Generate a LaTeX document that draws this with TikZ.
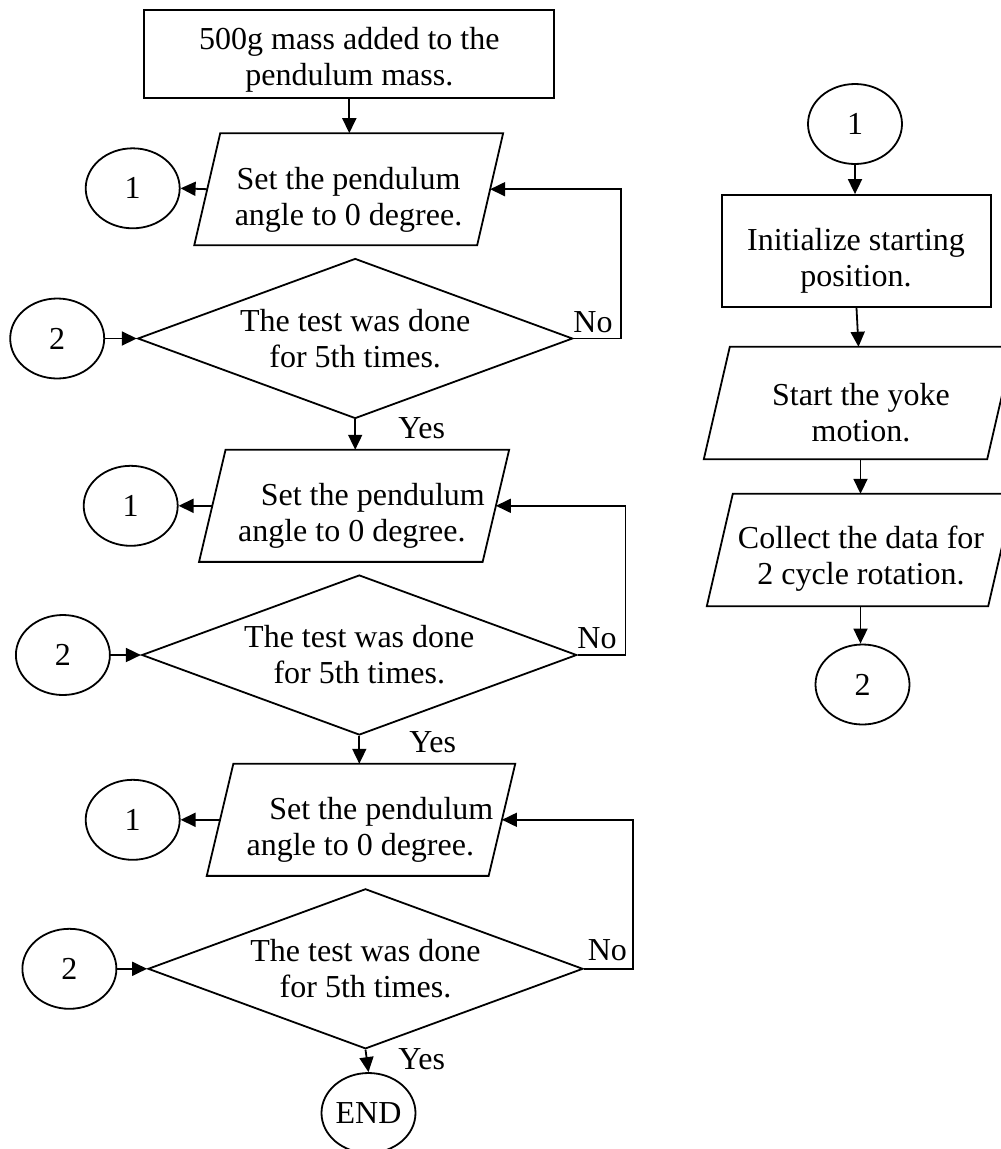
\documentclass[tikz,border=0pt]{standalone}
\usepackage{fontspec}
\setmainfont{Liberation Serif}
\usetikzlibrary{shapes.geometric,arrows.meta,calc}
\newcommand\paradraw[2]{\draw[line] ($(#1.north west)+(#2/2,0)$) -- ($(#1.north east)+(#2/2,0)$) -- ($(#1.south east)-(#2/2,0)$) -- ($(#1.south west)-(#2/2,0)$) -- cycle;}
\begin{document}
\begin{tikzpicture}[x=1pt,y=-1pt,
  every node/.style={font=\fontsize{32}{36}\selectfont},
  line/.style={line width=1.8pt},
  arr/.style={line width=1.8pt,-{Triangle[length=15pt,width=14pt]}},
  procbox/.style={draw,line width=1.8pt,inner sep=0pt},
  paranode/.style={inner sep=0pt},
  decision/.style={diamond,draw,line width=1.8pt,inner sep=0pt,aspect=2.7,minimum width=435pt,minimum height=160pt,align=center},
  conn/.style={ellipse,draw,line width=1.8pt,inner sep=0pt,minimum width=94pt,minimum height=80pt},
  txt/.style={align=center,inner sep=0pt}]
\useasboundingbox (0,0) rectangle (1001,1149);
\clip (0,0) rectangle (1001,1149);

% ---------- left column ----------
\node[procbox,minimum width=410pt,minimum height=88pt] (b0) at (349.3,54.2) {};
\node[txt] (b0t) at (349.3,60) {500g mass added to the\\pendulum mass.};

% block 1
\node[paranode,minimum width=282.5pt,minimum height=111.7pt] (p1) at (348.7,189.2) {};
\paradraw{p1}{26}
\node[txt] (p1t) at (348.5,199.5) {Set the pendulum\\angle to 0 degree.};
\node[conn] (c1a) at (132.7,188.3) {1};
\node[decision] (d1) at (355.2,338.5) {The test was done\\for 5th times.};
\node[conn] (c2a) at (57.2,338.5) {2};
\coordinate (k1) at (620.6,338.5);
\node[txt] (no1) at (593,322) {No};
\node[txt] (yes1) at (421.7,428) {Yes};

% block 2
\node[paranode,minimum width=283.2pt,minimum height=111.7pt] (p2) at (354.1,505.8) {};
\paradraw{p2}{26.5}
\node[txt] (p2t) at (351.8,516) {\hspace*{42pt}Set the pendulum\\angle to 0 degree.};
\node[conn] (c1b) at (130.7,505.8) {1};
\node[decision] (d2) at (359.3,655) {The test was done\\for 5th times.};
\node[conn] (c2b) at (62.9,655) {2};
\coordinate (k2) at (625.5,655);
\node[txt] (no2) at (597,638) {No};
\node[txt] (yes2) at (432.7,742) {Yes};

% block 3
\node[paranode,minimum width=281.5pt,minimum height=111.7pt] (p3) at (361,819.8) {};
\paradraw{p3}{26.6}
\node[txt] (p3t) at (360.3,830) {\hspace*{42pt}Set the pendulum\\angle to 0 degree.};
\node[conn] (c1c) at (132.7,819.8) {1};
\node[decision] (d3) at (365.5,968.8) {The test was done\\for 5th times.};
\node[conn] (c2c) at (69.4,968.8) {2};
\coordinate (k3) at (632.9,968.8);
\node[txt] (no3) at (607.4,950) {No};
\node[txt] (yes3) at (421.7,1059) {Yes};
\node[conn] (endn) at (368.5,1113) {END};

% left connectors
\draw[arr] (b0.south) -- (b0.south |- p1.north);
\draw[arr] (p1.west) -- (c1a.east);
\draw[arr] (c2a.east) -- (d1.west);
\draw[arr] (d1.east) -- (k1) |- (p1.east);
\draw[arr] (d1.south) -- (d1.south |- p2.north);
\draw[arr] (p2.west) -- (c1b.east);
\draw[arr] (c2b.east) -- (d2.west);
\draw[arr] (d2.east) -- (k2) |- (p2.east);
\draw[arr] (d2.south) -- (d2.south |- p3.north);
\draw[arr] (p3.west) -- (c1c.east);
\draw[arr] (c2c.east) -- (d3.west);
\draw[arr] (d3.east) -- (k3) |- (p3.east);
\draw[arr] (d3.south) -- (endn.north);

% ---------- right column ----------
\node[conn] (c1r) at (855,124) {1};
\node[procbox,minimum width=269pt,minimum height=112pt] (r1) at (856.5,251) {};
\node[txt] (r1t) at (856,261) {Initialize starting\\position.};
\node[paranode,minimum width=283pt,minimum height=112pt] (r2) at (858.5,403) {};
\paradraw{r2}{26}
\node[txt] (r2t) at (861,413) {Start the yoke\\motion.};
\node[paranode,minimum width=281pt,minimum height=112pt] (r3) at (860.5,550) {};
\paradraw{r3}{26}
\node[txt] (r3t) at (861,559) {Collect the data for\\2 cycle rotation.};
\node[conn] (c2r) at (862.5,684.5) {2};

\draw[arr] (c1r.south) -- (c1r.south |- r1.north);
\draw[arr] (r1.south) -- (r2.north);
\draw[arr] (r3.north |- r2.south) -- (r3.north);
\draw[arr] (r3.south) -- (r3.south |- c2r.north);
\end{tikzpicture}
\end{document}
